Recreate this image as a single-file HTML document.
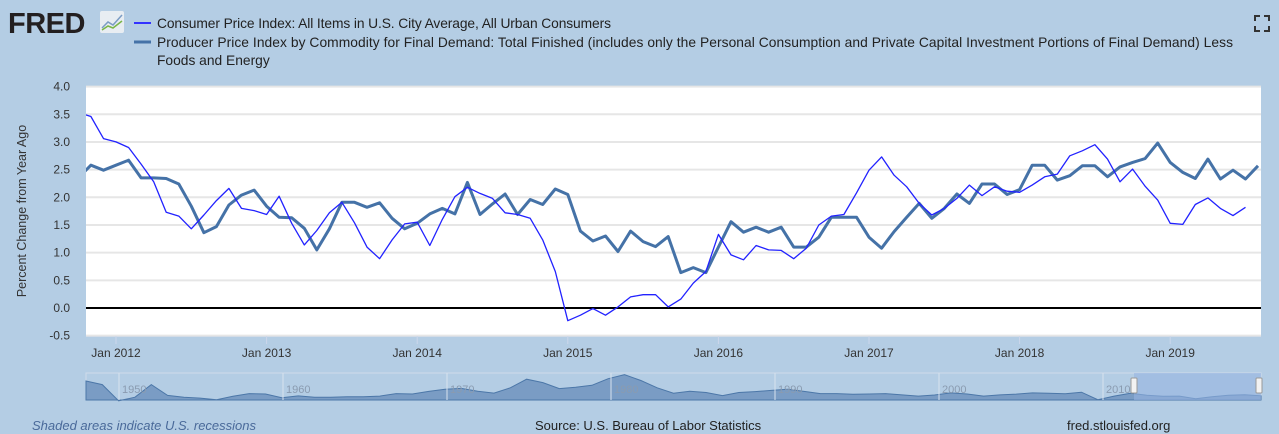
<!DOCTYPE html>
<html><head><meta charset="utf-8">
<style>
body{margin:0;width:1279px;height:434px;background:#b4cde4;overflow:hidden;font-family:"Liberation Sans",sans-serif;}
svg{display:block}
</style></head>
<body>
<svg id="chart" width="1279" height="434">
  <g>
    <text x="8" y="33" font-size="29" font-weight="bold" fill="#231f20" letter-spacing="-0.5">FRED</text>
    <rect x="100" y="11" width="24" height="22" fill="#e8edf2" rx="2"/>
    <polyline points="102,28 108,22 113,25 122,15" fill="none" stroke="#7b9cc4" stroke-width="1.5"/>
    <polyline points="102,30 108,26 113,28 122,21" fill="none" stroke="#7ab648" stroke-width="1.5"/>
  </g>
  <g>
    <line x1="134" y1="23" x2="151" y2="23" stroke="#3333ff" stroke-width="2"/>
    <text x="157" y="28" font-size="13.8" fill="#222" textLength="454">Consumer Price Index: All Items in U.S. City Average, All Urban Consumers</text>
    <line x1="134" y1="42" x2="151" y2="42" stroke="#4572a7" stroke-width="3"/>
    <text x="157" y="47" font-size="13.8" fill="#222" textLength="1076">Producer Price Index by Commodity for Final Demand: Total Finished (includes only the Personal Consumption and Private Capital Investment Portions of Final Demand) Less</text>
    <text x="157" y="65" font-size="13.8" fill="#222">Foods and Energy</text>
  </g>
  <g stroke="#333" stroke-width="2" fill="none">
    <path d="M1255 21v-5h5M1264 16h5v5M1269 26v5h-5M1260 31h-5v-5"/>
  </g>
  <rect x="86" y="86" width="1175" height="250" fill="#fff"/>
  <g id="grid"></g>
  <g id="yaxis"></g>
  <g id="xaxis"></g>
  <text transform="translate(26,211) rotate(-90)" text-anchor="middle" font-size="12.5" fill="#333">Percent Change from Year Ago</text>
  <defs><clipPath id="clip"><rect x="86" y="80" width="1175" height="260"/></clipPath></defs>
  <g id="series" clip-path="url(#clip)"></g>
  <g id="nav"></g>
  <text x="32" y="430" font-size="13" font-style="italic" fill="#4a6a9a">Shaded areas indicate U.S. recessions</text>
  <text x="535" y="430" font-size="13" fill="#222">Source: U.S. Bureau of Labor Statistics</text>
  <text x="1067" y="430" font-size="13" fill="#222">fred.stlouisfed.org</text>
</svg>
<script>
const yTicks=[4.0,3.5,3.0,2.5,2.0,1.5,1.0,0.5,0.0,-0.5];
const xYears=[2012,2013,2014,2015,2016,2017,2018,2019];
const startYear=2011, startMonth=9; // Oct 2011 (0-based month)
const cpi=[3.53,3.46,3.06,3.0,2.9,2.6,2.28,1.73,1.66,1.43,1.68,1.94,2.16,1.8,1.76,1.69,2.02,1.53,1.14,1.4,1.72,1.91,1.54,1.1,0.89,1.23,1.52,1.55,1.13,1.6,2.01,2.18,2.07,1.98,1.72,1.69,1.62,1.23,0.66,-0.23,-0.13,-0.01,-0.13,0.02,0.2,0.24,0.24,0.02,0.16,0.45,0.66,1.33,0.96,0.87,1.13,1.05,1.04,0.89,1.08,1.5,1.66,1.69,2.08,2.49,2.73,2.4,2.19,1.89,1.68,1.8,1.98,2.22,2.03,2.19,2.11,2.09,2.22,2.37,2.42,2.75,2.84,2.95,2.69,2.28,2.51,2.2,1.95,1.53,1.51,1.87,1.99,1.8,1.67,1.82];
const ppi=[2.35,2.58,2.49,2.58,2.67,2.35,2.35,2.34,2.24,1.84,1.36,1.47,1.86,2.04,2.13,1.84,1.64,1.63,1.44,1.05,1.43,1.91,1.91,1.82,1.9,1.62,1.43,1.53,1.7,1.8,1.7,2.27,1.69,1.88,2.06,1.69,1.96,1.87,2.15,2.05,1.39,1.21,1.3,1.02,1.39,1.2,1.11,1.29,0.64,0.73,0.64,1.1,1.56,1.37,1.46,1.37,1.46,1.1,1.1,1.28,1.64,1.64,1.64,1.28,1.08,1.38,1.64,1.89,1.62,1.8,2.06,1.89,2.24,2.24,2.05,2.14,2.58,2.58,2.31,2.39,2.57,2.57,2.37,2.55,2.63,2.7,2.98,2.63,2.45,2.34,2.69,2.33,2.49,2.33,2.57];
const navValues=[10,8,-1,1,8,2,1,0.5,-0.4,1.5,3,2.8,0.7,1.7,1,1,1.3,1.3,1.6,3,2.8,4.2,5.4,5.9,4.3,3.3,6.2,11,9.1,5.8,6.5,7.6,11.3,13.5,10.3,6.2,3.2,4.3,3.6,1.9,3.6,4.1,4.8,5.4,4.2,3,3,2.6,2.8,3,2.3,1.6,2.2,3.4,2.8,1.6,2.3,2.7,3.4,3.2,2.9,3.8,-0.4,1.6,3.2,2.1,1.5,1.6,0.1,1.3,2.1,2.4,1.8];
const NS='http://www.w3.org/2000/svg';
const X0=86,X1=1261,Y0=86,Y1=336;
function yS(v){return 308-v*55.35;}
function xS(monthIndexFromJan2012){return 116+monthIndexFromJan2012*12.55;}
function mk(tag,attrs,parent){const e=document.createElementNS(NS,tag);for(const k in attrs)e.setAttribute(k,attrs[k]);parent.appendChild(e);return e;}
const grid=document.getElementById('grid'),ya=document.getElementById('yaxis'),xa=document.getElementById('xaxis'),ser=document.getElementById('series'),nav=document.getElementById('nav');
yTicks.forEach(t=>{
  const y=yS(t);
  if(t!==0){const l=mk('line',{x1:X0,x2:X1,y1:y,y2:y,stroke:'#e6e6e6','stroke-width':2},grid);
  
  }
  const tx=mk('text',{x:70,y:y+4,'text-anchor':'end','font-size':12,fill:'#333'},ya);
  tx.textContent=t.toFixed(1);
  
  
});
xYears.forEach(yr=>{
  const x=xS((yr-2012)*12);
  const l=mk('line',{x1:x,x2:x,y1:Y1,y2:Y1+8,stroke:'#ccd6eb'},xa);
  
  
  const tx=mk('text',{x:x,y:357,'text-anchor':'middle','font-size':12,fill:'#333'},xa);
  tx.textContent='Jan '+yr;
  
  
});
const zl=mk('line',{x1:X0,x2:X1,y1:yS(0),y2:yS(0),stroke:'#000','stroke-width':2},grid);


const off=(startYear-2012)*12+startMonth;
function pts(arr){return arr.map((v,i)=>xS(off+i).toFixed(1)+','+yS(v).toFixed(1)).join(' ');}
const p2=mk('polyline',{points:pts(ppi),fill:'none',stroke:'#4572a7','stroke-width':3,'stroke-linejoin':'round'},ser);


const p1=mk('polyline',{points:pts(cpi),fill:'none',stroke:'#2222ff','stroke-width':1.3,'stroke-linejoin':'round'},ser);


// navigator
const nb=mk('rect',{x:86,y:373,width:1175,height:27,fill:'#b4cde4',stroke:'#cfdcea'},nav);


const NX0=86,NX1=1261,NYb=400;
const nstep=(NX1-NX0)/(navValues.length-1);
let d='M'+NX0+','+NYb;
navValues.forEach((v,i)=>{d+=' L'+(NX0+i*nstep).toFixed(1)+','+(399-v*1.8).toFixed(1);});
d+=' L'+NX1+','+NYb+' Z';
const na=mk('path',{d:d,fill:'#7a9cc4',stroke:'#4c77a8','stroke-width':1},nav);


['1950','1960','1970','1980','1990','2000','2010'].forEach((lab,i)=>{
  const x=119+i*164;
  const l=mk('line',{x1:x,x2:x,y1:373,y2:400,stroke:'#d8e2ee'},nav);
  
  
  const t=mk('text',{x:x+3,y:393,'font-size':11,fill:'#8a9bb0'},nav);
  t.textContent=lab;
  
  
});
const sel=mk('rect',{x:1134,y:373,width:127,height:27,fill:'rgba(150,180,225,0.6)'},nav);


[1134,1259].forEach(x=>{
  const h=mk('rect',{x:x-3,y:378,width:6,height:15,fill:'#f2f2f2',stroke:'#999',rx:1},nav);
  
  
});
</script>
</body></html>
